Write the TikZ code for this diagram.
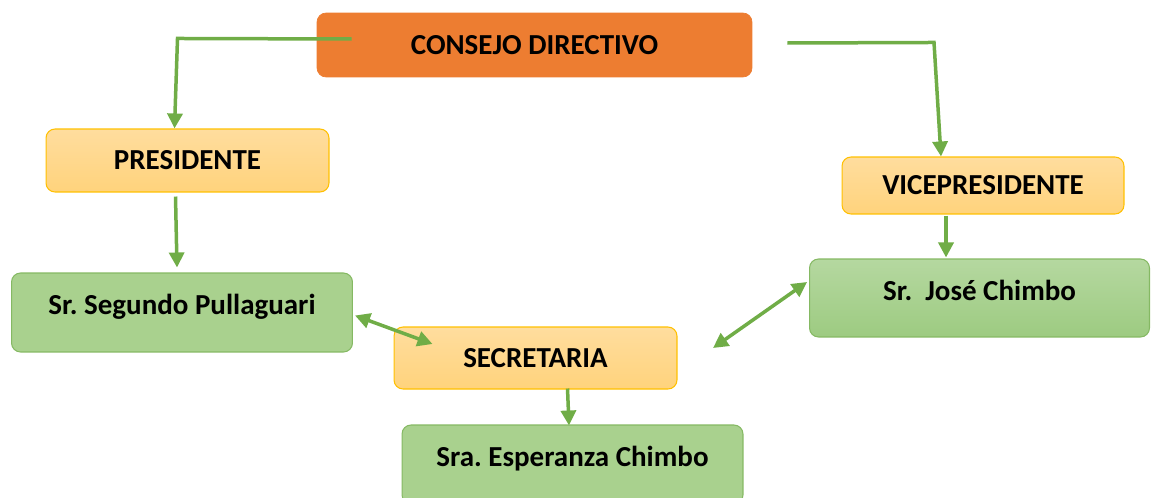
\documentclass[tikz,border=0pt]{standalone}
\usepackage{fontspec}
\setmainfont{Carlito}
\usetikzlibrary{positioning,calc,arrows.meta}

\definecolor{headorange}{HTML}{ED7D31}
\definecolor{goldtop}{HTML}{FFDD9E}
\definecolor{goldbottom}{HTML}{FFD37C}
\definecolor{goldline}{HTML}{FFC000}
\definecolor{leafgreen}{HTML}{A9D18E}
\definecolor{leaftop}{HTML}{B5D8A0}
\definecolor{leafbottom}{HTML}{9DCB81}
\definecolor{linkgreen}{HTML}{70AD47}

\begin{document}
\frenchspacing
\begin{tikzpicture}
    [x=0.02cm,y=-0.02cm,
    box/.style 2 args={
        rounded corners=0.18cm,
        font=\fontsize{16.5}{19}\selectfont\bfseries,
        align=center,
        inner sep=0pt,
        text height=0.37cm,
        minimum width=#1,
        minimum height=#2
    },
    head box/.style={box={8.7cm}{1.28cm},fill=headorange,draw=headorange,text depth=0cm},
    post box/.style 2 args={box={#1}{#2},draw=goldline,line width=0.6pt,
        top color=goldtop,bottom color=goldbottom,text depth=0cm},
    post box/.default={5.66cm}{1.26cm},
    name box/.style={box={6.82cm}{1.58cm},draw=linkgreen!85,line width=0.6pt,
        fill=leafgreen,text depth=0.31cm},
    link/.style={draw=linkgreen,line width=0.07cm,-{Triangle[length=0.3cm,width=0.3cm]}},
    both link/.style={link,{Triangle[length=0.3cm,width=0.3cm]}-{Triangle[length=0.3cm,width=0.3cm]}}]

    \useasboundingbox (0,0) rectangle (1152,497);
    \clip (0,0) rectangle (1152,497);

    %%% content
    \node (consejo) [head box] at (534.5,45) {CONSEJO DIRECTIVO};
    \node (presidente) [post box] at (187.5,160.5) {PRESIDENTE};
    \node (vice) [post box={5.64cm}{1.14cm}] at (983,185.5) {VICEPRESIDENTE};
    \node (segundo) [name box] at (182,312.5) {Sr. Segundo Pullaguari};
    \node (jose) [name box,top color=leaftop,bottom color=leafbottom,text depth=0.28cm,
        minimum width=6.8cm,minimum height=1.56cm] at (979.5,298) {Sr.\ \ José Chimbo};
    \node (secretaria) [post box={5.66cm}{1.24cm}] at (535.5,358) {SECRETARIA};
    \node (esperanza) [name box,minimum width=6.82cm] at (572.5,464.5) {Sra. Esperanza Chimbo};
    \coordinate (jose end) at (713,348);

    %% lines
    \draw[link] ($(consejo.west)+(35,-6)$) -- ($(presidente.north)+(-10,-90)$) -- ($(presidente.north)+(-13,0)$);
    \draw[link] ($(consejo.east)+(35,-2)$) -- ($(vice.north)+(-49,-114)$) -- ($(vice.north)+(-42,0)$);
    \draw[link] ($(presidente.south)+(-12,4)$) -- ($(segundo.north)+(-5,-5)$);
    \draw[link] ($(vice.south)+(-37,1)$) -- ($(jose.north)+(-33.5,-1)$);
    \draw[link] ($(secretaria.south)+(32,-1)$) -- ($(esperanza.north)+(-3.5,1)$);
    \draw[both link] ($(segundo.east)+(2,3)$) -- ($(secretaria.west)+(39,-14)$);
    \draw[both link] ($(jose.west)+(-2,-16)$) -- (jose end);
\end{tikzpicture}
\end{document}
